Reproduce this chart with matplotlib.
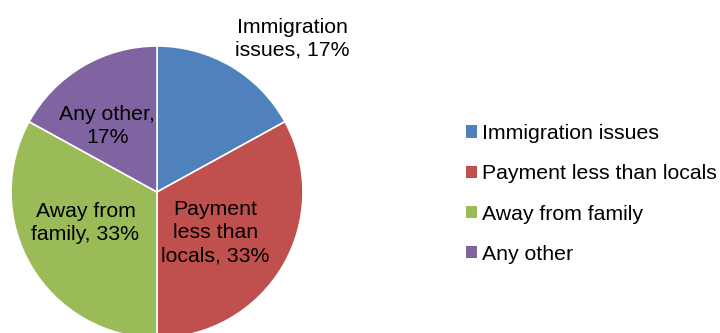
import matplotlib.pyplot as plt
from matplotlib.patches import Patch
import numpy as np

plt.rcParams['font.family'] = ['Liberation Sans', 'DejaVu Sans']

reasons = ['Immigration issues', 'Payment less than locals', 'Away from family', 'Any other']
label_text = ['Immigration\nissues, 17%', 'Payment\nless than\nlocals, 33%',
              'Away from\nfamily, 33%', 'Any other,\n17%']
share = [17, 33, 33, 17]
colors = ['#4F81BD', '#C0504D', '#9BBB59', '#8064A2']

# where each data label sits, in pie-radius units
label_pos = [(0.925, 1.05), (0.40, -0.28), (-0.49, -0.21), (-0.34, 0.45)]

W, H = 720, 333
fig = plt.figure(figsize=(W / 100, H / 100), dpi=100)

cx, cy, r = 157, 192, 146
ax = fig.add_axes([(cx - r) / W, (H - cy - r) / H, 2 * r / W, 2 * r / H])
ax.pie(share, colors=colors, startangle=90, counterclock=False,
       wedgeprops=dict(edgecolor='white', linewidth=1.2))
ax.set_xlim(-1, 1)
ax.set_ylim(-1, 1)
ax.set_aspect('equal')
ax.axis('off')

for txt, (x, y) in zip(label_text, label_pos):
    ax.text(x, y, txt, ha='center', va='center', fontsize=15.3,
            linespacing=1.28, color='black', clip_on=False)

handles = [Patch(facecolor=c, edgecolor='none') for c in colors]
fig.legend(handles, reasons, loc='upper left', bbox_to_anchor=(466 / W, 1 - 124 / H),
           frameon=False, fontsize=15.3, handlelength=0.52, handleheight=0.52,
           handletextpad=0.25, labelspacing=1.0, borderpad=0, borderaxespad=0)

fig.savefig('out.png', dpi=100)
